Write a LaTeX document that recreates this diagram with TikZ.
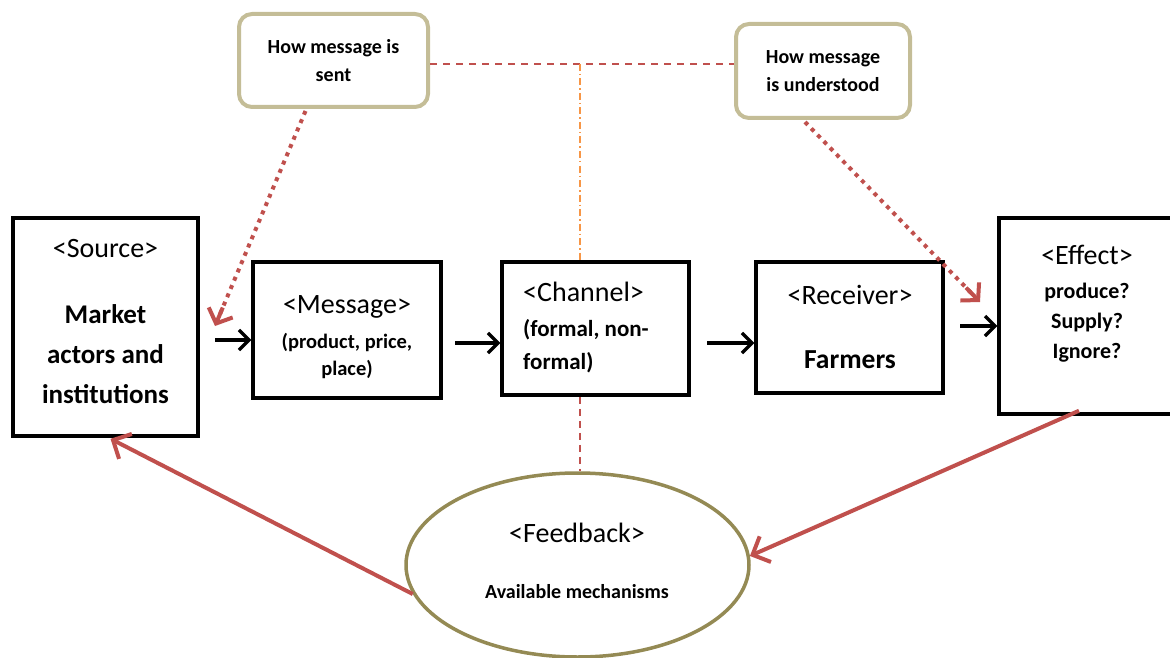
\documentclass[tikz,border=0pt]{standalone}
\usepackage{fontspec}
\setmainfont{Carlito}
\usetikzlibrary{arrows.meta,shapes.geometric,calc}
\definecolor{myred}{HTML}{C0504D}
\definecolor{mytan}{HTML}{C4BD97}
\definecolor{myolive}{HTML}{948A54}
\definecolor{myorange}{HTML}{F79646}
\newcommand{\hf}{\fontsize{28}{34}\selectfont\mdseries}
\tikzset{
  box/.style={draw=black, line width=3.5pt, fill=white, inner sep=0pt},
  hbox/.style={draw=mytan, line width=4pt, rounded corners=13pt, fill=white, inner sep=0pt, align=center,
    font=\fontsize{20}{28}\selectfont\bfseries},
  blk/.style={draw=black, line width=3.2pt, -{Straight Barb[length=10pt,width=20pt,line width=3.2pt]}},
  redarr/.style={draw=myred, line width=4pt, -{Straight Barb[length=14pt,width=28pt,line width=4pt]}},
  dotline/.style={draw=myred, line width=4pt, dash pattern=on 4pt off 5pt},
  redtip/.style={draw=myred, line width=4pt, -{Straight Barb[length=12pt,width=26pt,line width=4pt]}},
  txt/.style={inner sep=0pt, align=center}
}
\begin{document}
\begin{tikzpicture}[x=1pt,y=-1pt]
\useasboundingbox (0,0) rectangle (1170,658);
\coordinate (top) at (580,64);
% boxes
\node[box, minimum width=185pt, minimum height=218pt] (src) at (105.5,327) {};
\node[box, minimum width=188pt, minimum height=136pt] (msg) at (347,330) {};
\node[box, minimum width=187pt, minimum height=133pt] (chan) at (595.5,328.5) {};
\node[box, minimum width=187pt, minimum height=131pt] (rec) at (849.5,327.5) {};
\node[box, minimum width=176pt, minimum height=196pt] (eff) at (1087,316) {};
\node[hbox, minimum width=189pt, minimum height=93pt] (sent) at (333.5,60.5) {How message is\\sent};
\node[hbox, minimum width=174pt, minimum height=94pt] (und) at (823,71) {How message\\is understood};
\node[draw=myolive, line width=3.5pt, ellipse, minimum width=343pt, minimum height=184pt, inner sep=0pt, fill=white] (fb) at (577.5,565) {};
% dashed guide lines
\draw[myred, line width=1.3pt, dash pattern=on 7pt off 6pt] (sent.east |- top) -- (und.west |- top);
\draw[myorange, line width=1.3pt, dash pattern=on 7pt off 3pt on 1.5pt off 3pt] (top) -- (chan.north -| top);
\draw[myred, line width=1.3pt, dash pattern=on 7pt off 5pt] (chan.south -| top) -- (fb.north -| top);
% texts
\node[txt, font=\fontsize{27}{40}\selectfont\bfseries] (srct) at (105.5,322) {{\hf <Source>}\\[26pt]
  Market\\actors and\\institutions};
\node[txt, font=\fontsize{20.5}{27}\selectfont\bfseries] (msgt) at (347,337) {{\hf <Message>}\\[8pt]
  (product, price,\\place)};
\node[txt, align=left, anchor=west, font=\fontsize{23}{33}\selectfont\bfseries] (chant) at (523,328) {{\hf <Channel>}\\[2pt]
  (formal, non-\\formal)};
\node[txt, font=\fontsize{27.5}{34}\selectfont\bfseries] (rect) at (850,327) {{\hf <Receiver>}\\[30pt]
  Farmers};
\node[txt, font=\fontsize{22}{30}\selectfont\bfseries] (efft) at (1087,304) {{\hf <Effect>}\\[4pt]
  produce?\\Supply?\\Ignore?};
\node[txt, font=\fontsize{20}{26}\selectfont\bfseries] (fbt) at (577,561) {{\hf <Feedback>}\\[30pt]
  Available mechanisms};
% black arrows
\coordinate (a1) at (215,340);
\coordinate (a2) at (455,343);
\coordinate (a3) at (707,343);
\coordinate (a4) at (960,326);
\draw[blk] (a1) -- (msg.west |- a1);
\draw[blk] (a2) -- (chan.west |- a2);
\draw[blk] (a3) -- (rec.west |- a3);
\draw[blk] (a4) -- (eff.west |- a4);
% red feedback arrows
\draw[redarr] ($(eff.south)+(-8,-5)$) -- (fb.3);
\draw[redarr] (fb.190) -- ($(src.south)+(5,1)$);
% dotted arrows
\coordinate (s1) at ($(sent.south)+(-28,2)$);
\coordinate (s2) at ($(und.south)+(-18,2)$);
\coordinate (d1) at (215,326);
\coordinate (d2) at (980,302);
\draw[dotline] (s1) -- ($(d1)!10pt!(s1)$);
\draw[redtip] ($(d1)!20pt!(s1)$) -- (d1);
\draw[dotline] (s2) -- ($(d2)!10pt!(s2)$);
\draw[redtip] ($(d2)!20pt!(s2)$) -- (d2);
\end{tikzpicture}
\end{document}
